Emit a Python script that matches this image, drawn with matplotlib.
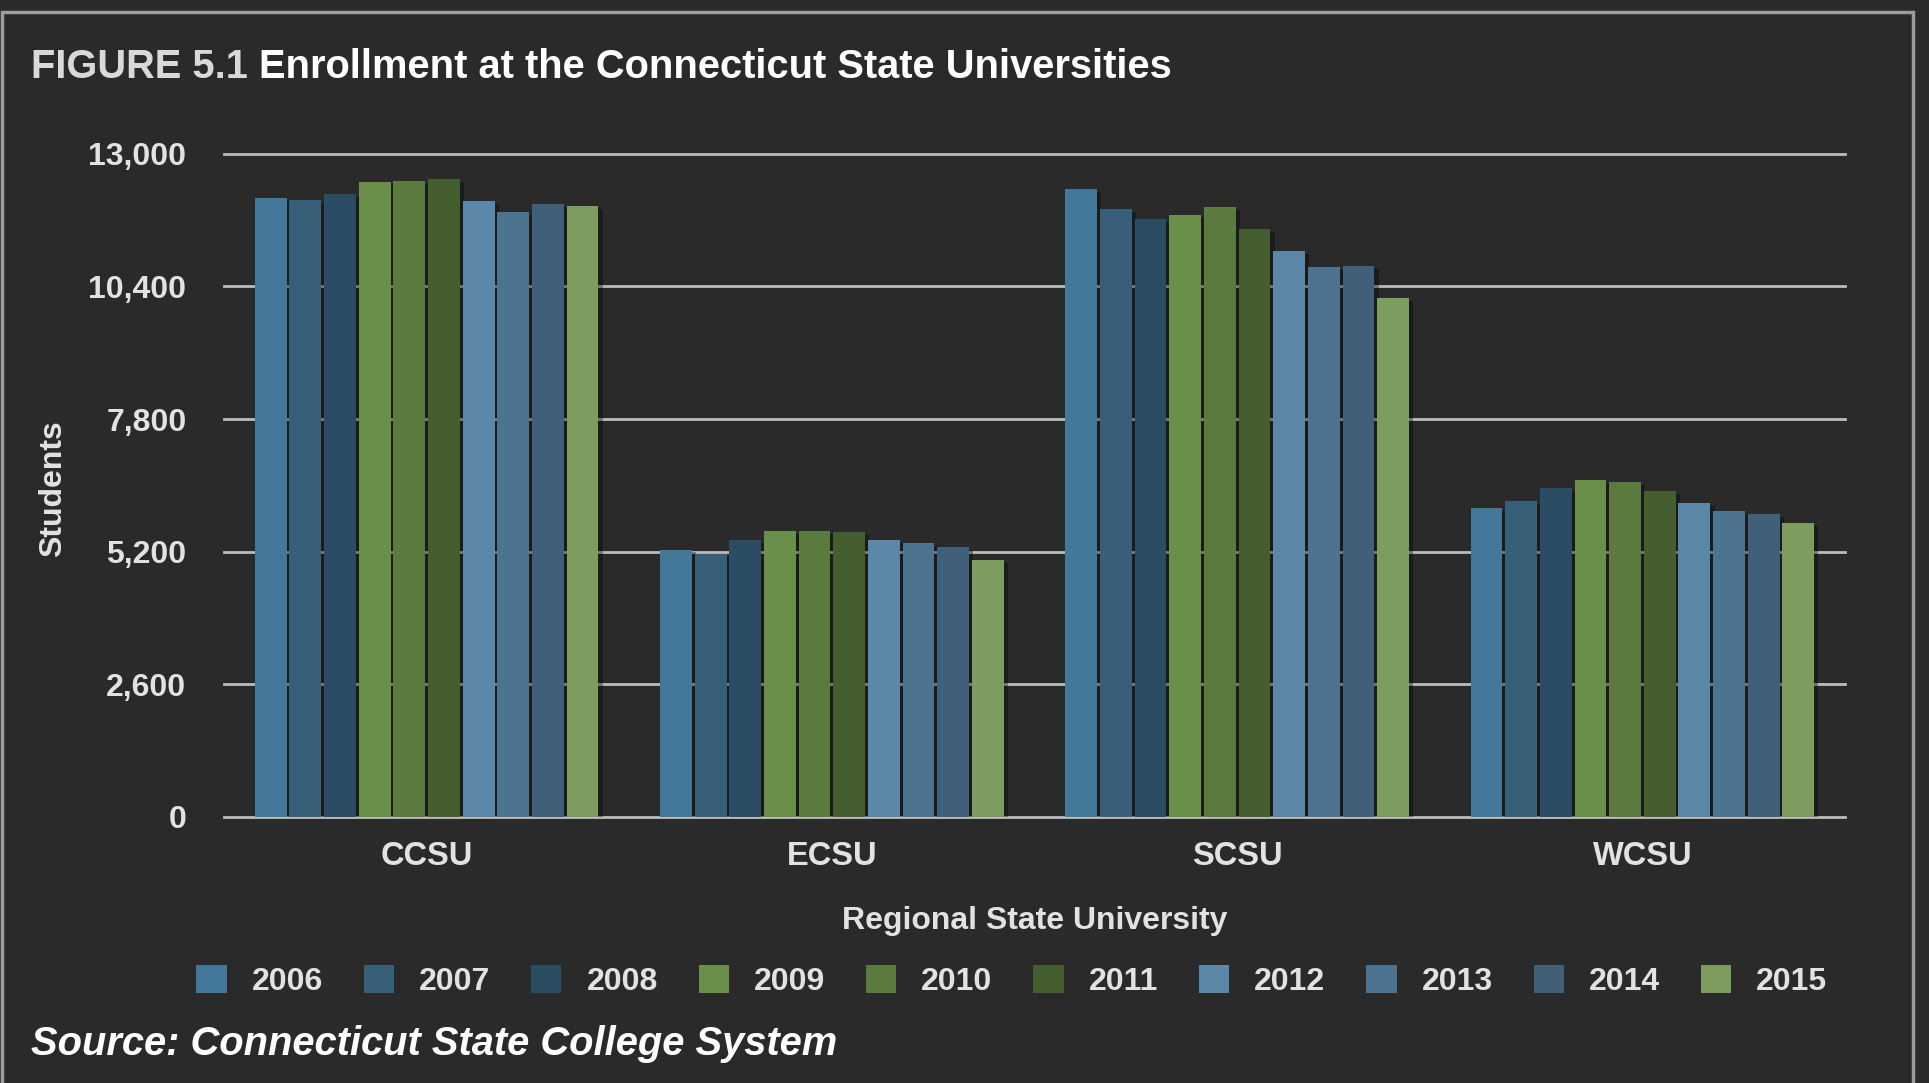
import matplotlib
matplotlib.use("Agg")
import matplotlib.pyplot as plt
import matplotlib.patheffects as pe
from matplotlib.patches import Rectangle
import numpy as np

# --- data ---
universities = ["CCSU", "ECSU", "SCSU", "WCSU"]
years = ["2006", "2007", "2008", "2009", "2010", "2011", "2012", "2013", "2014", "2015"]
ccsu = [12134, 12094, 12212, 12447, 12467, 12506, 12075, 11859, 12016, 11977]
ecsu = [5240, 5150, 5430, 5610, 5610, 5590, 5430, 5370, 5290, 5040]
scsu = [12310, 11918, 11722, 11800, 11957, 11526, 11095, 10781, 10801, 10173]
wcsu = [6056, 6193, 6448, 6605, 6566, 6389, 6154, 5997, 5938, 5762]
y_ticks = [0, 2600, 5200, 7800, 10400, 13000]

colors = ["#44789a", "#375f7a", "#2a4d63", "#6a8f4a", "#5a7a3e",
          "#445e30", "#5b87a8", "#4c7390", "#405f78", "#7c9d5e"]

bg = "#2a2a2a"
txt = "#e2e2e2"
plt.rcParams['font.family'] = ['Liberation Sans', 'DejaVu Sans']

fig = plt.figure(figsize=(19.29, 10.83), dpi=100, facecolor=bg)
ax = fig.add_axes([0.1161, 0.2457, 0.8404, 0.6123])
ax.set_facecolor(bg)

# panel border
fig.patches.append(Rectangle((0.001, -0.05), 0.9905, 1.039, transform=fig.transFigure,
                             fill=False, edgecolor="#9c9c9c", linewidth=2.5))

data = np.array([ccsu, ecsu, scsu, wcsu])
x = np.arange(len(universities))
slot = 0.0855
for i, yr in enumerate(years):
    bars = ax.bar(x + (i - 4.5) * slot, data[:, i], width=slot * 0.92,
                  color=colors[i], label=yr, zorder=3)
    for b in bars:
        b.set_path_effects([pe.SimplePatchShadow(offset=(3, -2), shadow_rgbFace="black", alpha=0.35),
                            pe.Normal()])

# grid lines
for t in y_ticks:
    ax.axhline(t, color="#bdbdbd", linewidth=2, zorder=1, clip_on=False)

ax.set_xlim(-0.5, 3.5)
ax.set_ylim(0, 13000)
ax.set_yticks(y_ticks)
ax.set_yticklabels([f"{t:,}" for t in y_ticks])
ax.set_xticks(x)
ax.set_xticklabels(universities)
ax.tick_params(axis="y", length=0, pad=27, labelsize=23, labelcolor=txt)
ax.tick_params(axis="x", length=0, pad=17, labelsize=23.5, labelcolor=txt)
for lab in ax.get_xticklabels() + ax.get_yticklabels():
    lab.set_fontweight("bold")
for s in ax.spines.values():
    s.set_visible(False)

ax.set_xlabel("Regional State University", fontsize=23, fontweight="bold", color=txt, labelpad=25)
fig.text(0.0275, 0.549, "Students", rotation=90, fontsize=23, fontweight="bold",
         color=txt, ha="center", va="center")

# title in two colours
fig.canvas.draw()
r = fig.canvas.get_renderer()
t1 = fig.text(0.016, 0.938, "FIGURE 5.1 ", fontsize=28.7, fontweight="bold", color="#d9d9d9", va="center")
bb = t1.get_window_extent(renderer=r)
fig.text(bb.x1 / fig.bbox.width, 0.938, "Enrollment at the Connecticut State Universities",
         fontsize=28.7, fontweight="bold", color="white", va="center")

fig.text(0.016, 0.036, "Source: Connecticut State College System", fontsize=28.7,
         fontweight="bold", style="italic", color="white", va="center")

leg = fig.legend(loc="center", bbox_to_anchor=(0.5245, 0.094), ncol=10, frameon=False,
                 handlelength=0.95, handleheight=0.95, handletextpad=0.78,
                 columnspacing=1.28, labelcolor=txt, prop={"weight": "bold", "size": 23})
for h in leg.legend_handles:
    h.set_path_effects([])

fig.savefig("out.png", dpi=100, facecolor=bg)
